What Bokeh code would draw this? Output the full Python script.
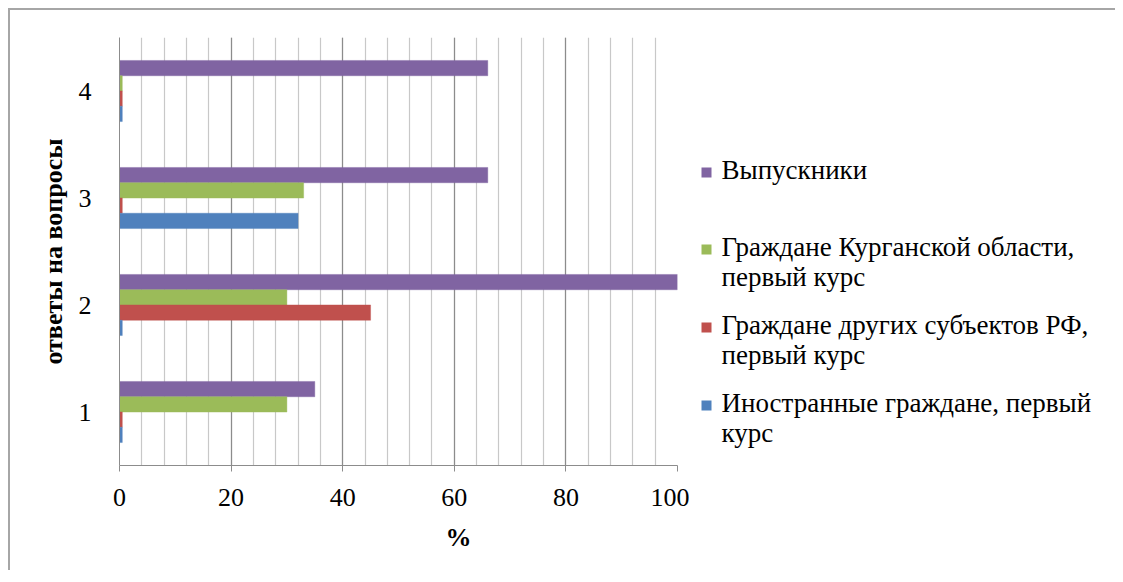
from bokeh.plotting import figure
from bokeh.layouts import row
from bokeh.models import (FactorRange, Range1d, SingleIntervalTicker, ColumnDataSource, Title)
from bokeh.core.properties import value
from bokeh.transform import dodge
from bokeh.embed import file_html
from bokeh.resources import INLINE

categories = ["1", "2", "3", "4"]
series_names = [
    "Выпускники",
    "Граждане Курганской области,\nпервый курс",
    "Граждане других субъектов РФ,\nпервый курс",
    "Иностранные  граждане, первый\nкурс",
]
vypuskniki = [35, 100, 66, 66]
kurgan = [30, 30, 33, 0.5]
drugie = [0.5, 45, 0.5, 0.5]
inostr = [0.5, 0.5, 32, 0.5]

colors = ["#8064A2", "#9BBB59", "#C0504D", "#4F81BD"]
offsets = [0.214, 0.071, -0.071, -0.214]

FONT = "Liberation Serif"
LEGEND_FONT = "Times New Roman"
FS = "26px"

p = figure(
    width=679, height=560,
    y_range=FactorRange(factors=categories, range_padding=0),
    x_range=Range1d(0, 100),
    output_backend="svg", toolbar_location=None,
    min_border_left=109, min_border_top=27, min_border_bottom=105, min_border_right=12,
    frame_width=558, frame_height=428,
)
p.outline_line_color = None

src = ColumnDataSource(dict(cat=categories, s0=vypuskniki, s1=kurgan, s2=drugie, s3=inostr))
for i in range(4):
    p.hbar(y=dodge("cat", offsets[i], range=p.y_range), right="s%d" % i, left=0,
           height=0.143, source=src, fill_color=colors[i], line_color=colors[i],
           line_alpha=0.4)

# grid
p.xaxis.ticker = SingleIntervalTicker(interval=20, num_minor_ticks=5)
p.xgrid.grid_line_color = "#8c8c8c"
p.xgrid.grid_line_width = 1.2
p.xgrid.minor_grid_line_color = "#c8c8c8"
p.xgrid.minor_grid_line_width = 1.2
p.ygrid.grid_line_color = None

# axes
for ax in (p.xaxis, p.yaxis):
    ax.axis_line_color = "#8c8c8c"
    ax.major_label_text_font = FONT
    ax.major_label_text_font_size = FS
    ax.major_label_text_color = "#000000"
    ax.minor_tick_line_color = None
p.xaxis.major_tick_line_color = "#8c8c8c"
p.xaxis.major_tick_out = 6
p.xaxis.major_tick_in = 0
p.xaxis.major_label_standoff = 17
p.yaxis.major_tick_line_color = None
p.yaxis.major_label_standoff = 22
p.yaxis.axis_label = "ответы на вопросы"
p.yaxis.axis_label_text_font = FONT
p.yaxis.axis_label_text_font_size = FS
p.yaxis.axis_label_text_font_style = "bold"
p.yaxis.axis_label_text_color = "#000000"
p.yaxis.axis_label_standoff = 8

p.add_layout(Title(text="%", align="left", offset=326, text_font=FONT,
                   text_font_size=FS, text_font_style="bold", text_color="#000000",
                   standoff=25), "below")

# legend panel (pixel coordinates from the top-left of its drawing area,
# which the row aligns with the top of the chart's plot area)
LW, LH = 426, 428
lg = figure(frame_width=LW, frame_height=LH, x_range=Range1d(0, LW), y_range=Range1d(LH, 0),
            output_backend="svg", toolbar_location=None,
            min_border_left=0, min_border_right=0, min_border_top=27, min_border_bottom=105)
lg.axis.visible = False
lg.grid.visible = False
lg.outline_line_color = None

item_top = [132, 209, 287, 365]
line_gap = 30
mx, tx = 17, 32
for i, name in enumerate(series_names):
    lg.scatter(x=[mx], y=[item_top[i] + 3], marker="square", size=10,
               fill_color=colors[i], line_color=None)
    lines = name.split("\n")
    lg.text(x=[tx] * len(lines), y=[item_top[i] + k * line_gap for k in range(len(lines))],
            text=lines, text_font=value(LEGEND_FONT), text_font_size="27px",
            text_baseline="middle", text_align="left", text_color="#000000")

layout = row(p, lg)
layout.styles = {"border-top": "2px solid #a6a6a6", "border-left": "2px solid #a6a6a6",
                 "margin-left": "8px", "margin-top": "8px"}

open("out.html", "w").write(file_html(layout, INLINE))
